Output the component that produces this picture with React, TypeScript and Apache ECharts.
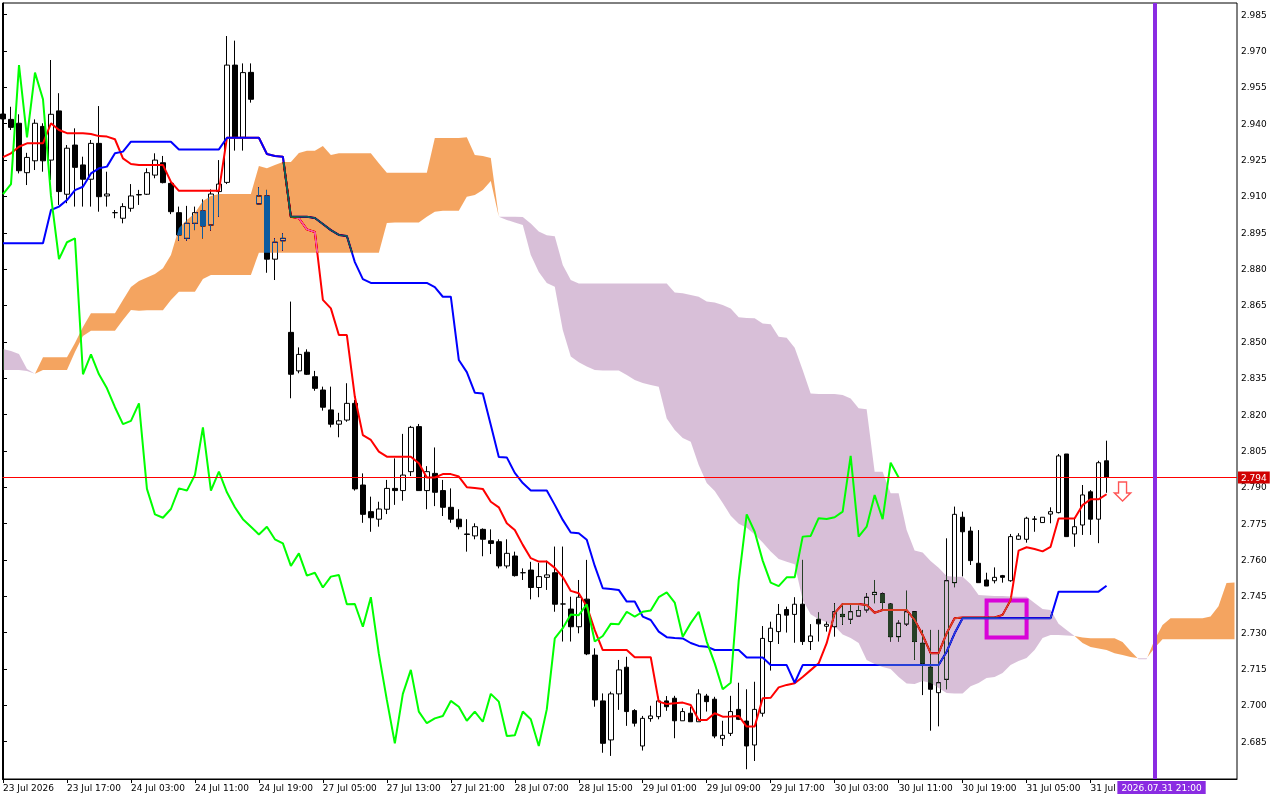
import React, { useEffect, useRef } from 'react'
import * as echarts from 'echarts'

// hourly bars, x value = bar index (bar 0 = 23 Jul 2026)
const opens = [
  2.9440, 2.9418, 2.9402, 2.9198, 2.9247, 2.9389, 2.9250, 2.9453, 2.9109, 2.9312,
  2.9230, 2.9171, 2.9319, 2.9102, 2.9033, 2.9010, 2.9051, 2.9106, 2.9109, 2.9188,
  2.9239, 2.9154, 2.9033, 2.8927, 2.8989, 2.9040, 2.8982, 2.9120, 2.9158, 2.9642,
  2.9344, 2.9612, 2.9069, 2.9102, 2.8841, 2.8917, 2.8539, 2.8380, 2.8457, 2.8356,
  2.8301, 2.8219, 2.8160, 2.8177, 2.8246, 2.7909, 2.7799, 2.7768, 2.7809, 2.7895,
  2.7886, 2.7964, 2.8150, 2.7886, 2.7957, 2.7886, 2.7817, 2.7768, 2.7707, 2.7699,
  2.7726, 2.7679, 2.7675, 2.7575, 2.7616, 2.7547, 2.7558, 2.7486, 2.7528, 2.7547,
  2.7418, 2.7397, 2.7324, 2.7438, 2.7207, 2.7018, 2.6857, 2.7047, 2.7157, 2.6978,
  2.6832, 2.6945, 2.6953, 2.7018, 2.7029, 2.6936, 2.6967, 2.6932, 2.7038, 2.7025,
  2.6862, 2.6884, 2.6983, 2.6935, 2.6836, 2.6967, 2.7263, 2.7304, 2.7395, 2.7375,
  2.7417, 2.7263, 2.7355, 2.7326, 2.7324, 2.7375, 2.7355, 2.7368, 2.7393, 2.7457,
  2.7460, 2.7418, 2.7283, 2.7335, 2.7386, 2.7256, 2.7157, 2.7052, 2.7107, 2.7506,
  2.7776, 2.7719, 2.7586, 2.7517, 2.7514, 2.7535, 2.7514, 2.7685, 2.7685, 2.7767,
  2.7754, 2.7789, 2.7795, 2.8037, 2.7707, 2.7744, 2.7881, 2.7768, 2.8009
]
const closes = [
  2.9420, 2.9385, 2.9206, 2.9261, 2.9402, 2.9247, 2.9439, 2.9120, 2.9299, 2.9220,
  2.9171, 2.9319, 2.9099, 2.9110, 2.9033, 2.9058, 2.9102, 2.9108, 2.9198, 2.9250,
  2.9157, 2.9037, 2.8941, 2.8989, 2.9033, 2.8978, 2.9110, 2.9151, 2.9642, 2.9344,
  2.9611, 2.9501, 2.9102, 2.8841, 2.8911, 2.8927, 2.8366, 2.8448, 2.8366, 2.8308,
  2.8230, 2.8160, 2.8174, 2.8246, 2.7893, 2.7788, 2.7774, 2.7810, 2.7895, 2.7886,
  2.7950, 2.8147, 2.7886, 2.7964, 2.7879, 2.7817, 2.7768, 2.7737, 2.7705, 2.7737,
  2.7685, 2.7668, 2.7575, 2.7627, 2.7535, 2.7547, 2.7486, 2.7531, 2.7538, 2.7417,
  2.7418, 2.7324, 2.7446, 2.7212, 2.7022, 2.6843, 2.7047, 2.7146, 2.6974, 2.6926,
  2.6946, 2.6956, 2.7018, 2.6994, 2.6936, 2.6974, 2.6932, 2.7047, 2.7015, 2.6873,
  2.6876, 2.6974, 2.6942, 2.6832, 2.6983, 2.7276, 2.7318, 2.7375, 2.7372, 2.7417,
  2.7263, 2.7286, 2.7336, 2.7334, 2.7386, 2.7366, 2.7386, 2.7391, 2.7446, 2.7466,
  2.7424, 2.7283, 2.7339, 2.7386, 2.7263, 2.7173, 2.7066, 2.7093, 2.7514, 2.7788,
  2.7716, 2.7597, 2.7506, 2.7492, 2.7528, 2.7528, 2.7696, 2.7699, 2.7772, 2.7769,
  2.7776, 2.7799, 2.8029, 2.7696, 2.7737, 2.7868, 2.7768, 2.8001, 2.7940
]
const lows = [
  2.9407, 2.9374, 2.9195, 2.9147, 2.9209, 2.9202, 2.9168, 2.9065, 2.9072, 2.9058,
  2.9058, 2.9058, 2.9037, 2.9058, 2.9010, 2.8989, 2.9037, 2.9065, 2.9106, 2.9175,
  2.9154, 2.9027, 2.8917, 2.8917, 2.8961, 2.8927, 2.8959, 2.9016, 2.9151, 2.9289,
  2.9289, 2.9487, 2.9065, 2.8785, 2.8755, 2.8876, 2.8267, 2.8370, 2.8363, 2.8298,
  2.8216, 2.8147, 2.8106, 2.8170, 2.7886, 2.7753, 2.7716, 2.7737, 2.7789, 2.7827,
  2.7844, 2.7946, 2.7886, 2.7809, 2.7822, 2.7781, 2.7753, 2.7726, 2.7634, 2.7685,
  2.7615, 2.7624, 2.7565, 2.7565, 2.7531, 2.7517, 2.7437, 2.7446, 2.7476, 2.7386,
  2.7263, 2.7263, 2.7297, 2.7207, 2.6994, 2.6804, 2.6791, 2.6981, 2.6915, 2.6912,
  2.6813, 2.6932, 2.6942, 2.6977, 2.6864, 2.6936, 2.6932, 2.6932, 2.6974, 2.6864,
  2.6832, 2.6873, 2.6939, 2.6736, 2.6770, 2.6953, 2.7143, 2.7253, 2.7300, 2.7258,
  2.7249, 2.7228, 2.7263, 2.7304, 2.7283, 2.7332, 2.7336, 2.7368, 2.7383, 2.7421,
  2.7393, 2.7263, 2.7263, 2.7328, 2.7187, 2.7042, 2.6895, 2.6913, 2.7066, 2.7487,
  2.7532, 2.7579, 2.7506, 2.7492, 2.7503, 2.7506, 2.7510, 2.7682, 2.7671, 2.7716,
  2.7754, 2.7751, 2.7792, 2.7696, 2.7654, 2.7703, 2.7703, 2.7669, 2.7877
]
const highs = [
  2.9453, 2.9470, 2.9439, 2.9280, 2.9418, 2.9402, 2.9663, 2.9526, 2.9312, 2.9381,
  2.9264, 2.9333, 2.9473, 2.9202, 2.9044, 2.9072, 2.9151, 2.9127, 2.9216, 2.9278,
  2.9267, 2.9161, 2.9058, 2.9061, 2.9058, 2.9088, 2.9129, 2.9250, 2.9762, 2.9743,
  2.9649, 2.9649, 2.9138, 2.9127, 2.8927, 2.8948, 2.8666, 2.8477, 2.8469, 2.8380,
  2.8315, 2.8315, 2.8207, 2.8329, 2.8260, 2.7957, 2.7861, 2.7840, 2.7930, 2.8019,
  2.8120, 2.8153, 2.8161, 2.7987, 2.8064, 2.7930, 2.7895, 2.7809, 2.7768, 2.7751,
  2.7730, 2.7726, 2.7685, 2.7685, 2.7634, 2.7565, 2.7592, 2.7588, 2.7597, 2.7655,
  2.7655, 2.7448, 2.7517, 2.7600, 2.7235, 2.7049, 2.7056, 2.7187, 2.7200, 2.6984,
  2.6956, 2.6998, 2.7035, 2.7038, 2.7039, 2.6988, 2.6994, 2.7066, 2.7047, 2.7035,
  2.6936, 2.7039, 2.7093, 2.7066, 2.7097, 2.7327, 2.7345, 2.7418, 2.7407, 2.7446,
  2.7600, 2.7335, 2.7383, 2.7345, 2.7421, 2.7418, 2.7414, 2.7411, 2.7462, 2.7517,
  2.7465, 2.7421, 2.7350, 2.7473, 2.7386, 2.7311, 2.7311, 2.7311, 2.7689, 2.7820,
  2.7799, 2.7737, 2.7723, 2.7547, 2.7569, 2.7538, 2.7707, 2.7710, 2.7778, 2.7781,
  2.7776, 2.7817, 2.8037, 2.8037, 2.7772, 2.7909, 2.7888, 2.8009, 2.8092
]

// Ichimoku lines
const tenkan = [
  2.9262, 2.9278, 2.9305, 2.9319, 2.9319, 2.9319, 2.9402, 2.9374, 2.9361, 2.9361,
  2.9361, 2.9358, 2.9349, 2.9347, 2.9336, 2.9257, 2.9234, 2.9230, 2.9230, 2.9230,
  2.9230, 2.9160, 2.9123, 2.9123, 2.9123, 2.9123, 2.9123, 2.9123, 2.9342, 2.9342,
  2.9342, 2.9342, 2.9342, 2.9275, 2.9267, 2.9264, 2.9016, 2.9010, 2.8964, 2.8953,
  2.8673, 2.8638, 2.8528, 2.8528, 2.8273, 2.8115, 2.8095, 2.8047, 2.8026, 2.8026,
  2.8026, 2.8026, 2.7999, 2.7940, 2.7940, 2.7954, 2.7954, 2.7944, 2.7900, 2.7897,
  2.7893, 2.7840, 2.7817, 2.7751, 2.7723, 2.7662, 2.7607, 2.7593, 2.7593, 2.7567,
  2.7529, 2.7472, 2.7462, 2.7409, 2.7310, 2.7228, 2.7228, 2.7228, 2.7228, 2.7198,
  2.7198, 2.7198, 2.7015, 2.7005, 2.7008, 2.7011, 2.7001, 2.6939, 2.6939, 2.6967,
  2.6953, 2.6954, 2.6956, 2.6912, 2.6912, 2.7029, 2.7031, 2.7074, 2.7084, 2.7091,
  2.7117, 2.7145, 2.7173, 2.7256, 2.7380, 2.7418, 2.7418, 2.7418, 2.7414, 2.7382,
  2.7393, 2.7393, 2.7393, 2.7393, 2.7352, 2.7290, 2.7215, 2.7215, 2.7297, 2.7359,
  2.7362, 2.7362, 2.7362, 2.7362, 2.7362, 2.7373, 2.7434, 2.7638, 2.7652, 2.7645,
  2.7635, 2.7654, 2.7771, 2.7771, 2.7771, 2.7826, 2.7850, 2.7850, 2.7871
]
const kijun = [
  2.8907, 2.8907, 2.8907, 2.8907, 2.8907, 2.8907, 2.9044, 2.9058, 2.9085, 2.9126,
  2.9140, 2.9195, 2.9216, 2.9223, 2.9278, 2.9285, 2.9326, 2.9326, 2.9326, 2.9326,
  2.9326, 2.9326, 2.9294, 2.9294, 2.9294, 2.9294, 2.9294, 2.9294, 2.9342, 2.9342,
  2.9342, 2.9342, 2.9342, 2.9275, 2.9267, 2.9264, 2.9016, 2.9016, 2.9016, 2.9011,
  2.8986, 2.8961, 2.8941, 2.8937, 2.8829, 2.8759, 2.8743, 2.8743, 2.8743, 2.8743,
  2.8743, 2.8743, 2.8743, 2.8743, 2.8726, 2.8686, 2.8686, 2.8425, 2.8375, 2.8290,
  2.8287, 2.8157, 2.8025, 2.8023, 2.7959, 2.7917, 2.7886, 2.7886, 2.7886, 2.7827,
  2.7765, 2.7713, 2.7710, 2.7683, 2.7575, 2.7483, 2.7480, 2.7476, 2.7428, 2.7428,
  2.7366, 2.7352, 2.7304, 2.7281, 2.7278, 2.7276, 2.7257, 2.7245, 2.7242, 2.7228,
  2.7228, 2.7228, 2.7228, 2.7197, 2.7197, 2.7197, 2.7166, 2.7166, 2.7166, 2.7093,
  2.7166, 2.7166, 2.7166, 2.7166, 2.7166, 2.7166, 2.7166, 2.7166, 2.7166, 2.7166,
  2.7166, 2.7166, 2.7166, 2.7166, 2.7166, 2.7166, 2.7166, 2.7166, 2.7221, 2.7297,
  2.7359, 2.7359, 2.7359, 2.7359, 2.7359, 2.7359, 2.7359, 2.7359, 2.7359, 2.7359,
  2.7359, 2.7359, 2.7469, 2.7469, 2.7469, 2.7469, 2.7469, 2.7469, 2.7493
]
// senkou spans, already placed 26 bars ahead
const spanA = [
  2.8384, 2.8384, 2.8384, 2.8380, 2.8368, 2.8436, 2.8436, 2.8436, 2.8436, 2.8495,
  2.8561, 2.8618, 2.8618, 2.8618, 2.8618, 2.8673, 2.8726, 2.8751, 2.8765, 2.8780,
  2.8804, 2.8858, 2.8970, 2.9003, 2.9032, 2.9081, 2.9102, 2.9110, 2.9110, 2.9110,
  2.9110, 2.9110, 2.9226, 2.9216, 2.9230, 2.9242, 2.9242, 2.9279, 2.9289, 2.9289,
  2.9308, 2.9271, 2.9278, 2.9278, 2.9278, 2.9278, 2.9278, 2.9237, 2.9198, 2.9198,
  2.9198, 2.9198, 2.9198, 2.9198, 2.9341, 2.9341, 2.9341, 2.9341, 2.9344, 2.9271,
  2.9267, 2.9259, 2.9016, 2.9003, 2.8992, 2.8982, 2.8858, 2.8788, 2.8743, 2.8727,
  2.8549, 2.8439, 2.8416, 2.8398, 2.8384, 2.8382, 2.8382, 2.8382, 2.8363, 2.8342,
  2.8330, 2.8322, 2.8315, 2.8184, 2.8136, 2.8103, 2.8088, 2.7992, 2.7917, 2.7884,
  2.7835, 2.7782, 2.7749, 2.7733, 2.7705, 2.7672, 2.7635, 2.7604, 2.7592, 2.7582,
  2.7434, 2.7376, 2.7355, 2.7343, 2.7326, 2.7292, 2.7278, 2.7257, 2.7187, 2.7170,
  2.7158, 2.7150, 2.7117, 2.7090, 2.7088, 2.7100, 2.7092, 2.7071, 2.7051, 2.7049,
  2.7049, 2.7079, 2.7092, 2.7113, 2.7117, 2.7133, 2.7166, 2.7183, 2.7195, 2.7228,
  2.7278, 2.7290, 2.7290, 2.7288, 2.7286, 2.7280, 2.7277, 2.7277, 2.7277, 2.7277,
  2.7261, 2.7224, 2.7190, 2.7190, 2.7269, 2.7331, 2.7359, 2.7359, 2.7359, 2.7359,
  2.7359, 2.7366, 2.7409, 2.7505, 2.7507
]
const spanB = [
  2.8470, 2.8462, 2.8450, 2.8388, 2.8368, 2.8384, 2.8384, 2.8384, 2.8384, 2.8458,
  2.8524, 2.8546, 2.8546, 2.8546, 2.8546, 2.8590, 2.8631, 2.8628, 2.8630, 2.8630,
  2.8630, 2.8673, 2.8707, 2.8707, 2.8707, 2.8759, 2.8776, 2.8776, 2.8776, 2.8776,
  2.8776, 2.8776, 2.8868, 2.8868, 2.8868, 2.8868, 2.8868, 2.8868, 2.8868, 2.8868,
  2.8868, 2.8868, 2.8868, 2.8868, 2.8868, 2.8868, 2.8868, 2.8868, 2.8990, 2.8992,
  2.8992, 2.8992, 2.8992, 2.9016, 2.9037, 2.9041, 2.9041, 2.9041, 2.9099, 2.9106,
  2.9127, 2.9164, 2.9016, 2.9016, 2.9016, 2.9015, 2.8988, 2.8955, 2.8940, 2.8936,
  2.8817, 2.8755, 2.8741, 2.8741, 2.8741, 2.8741, 2.8741, 2.8741, 2.8741, 2.8741,
  2.8741, 2.8741, 2.8741, 2.8741, 2.8703, 2.8700, 2.8693, 2.8686, 2.8666, 2.8662,
  2.8652, 2.8637, 2.8601, 2.8598, 2.8597, 2.8576, 2.8572, 2.8521, 2.8517, 2.8475,
  2.8384, 2.8287, 2.8285, 2.8285, 2.8285, 2.8281, 2.8266, 2.8226, 2.8222, 2.7964,
  2.7964, 2.7875, 2.7875, 2.7723, 2.7639, 2.7630, 2.7595, 2.7568, 2.7533, 2.7530,
  2.7530, 2.7500, 2.7455, 2.7453, 2.7451, 2.7451, 2.7449, 2.7448, 2.7448, 2.7422,
  2.7397, 2.7393, 2.7336, 2.7311, 2.7286, 2.7257, 2.7240, 2.7234, 2.7228, 2.7215,
  2.7207, 2.7199, 2.7194, 2.7194, 2.7236, 2.7272, 2.7272, 2.7272, 2.7272, 2.7272,
  2.7272, 2.7272, 2.7272, 2.7272, 2.7272
]
const CHIKOU_SHIFT = 26

// the 31 Jul 13:00 label is cut off by the cursor time box in the terminal
const xLabels = [
  '23 Jul 2026', '23 Jul 17:00', '24 Jul 03:00', '24 Jul 11:00', '24 Jul 19:00',
  '27 Jul 05:00', '27 Jul 13:00', '27 Jul 21:00', '28 Jul 07:00', '28 Jul 15:00',
  '29 Jul 01:00', '29 Jul 09:00', '29 Jul 17:00', '30 Jul 03:00', '30 Jul 11:00',
  '30 Jul 19:00', '31 Jul 05:00', '31 Jul'
]
const X_LABEL_STEP = 8
const yTicks = [
  2.685, 2.7, 2.715, 2.73, 2.745, 2.76, 2.775, 2.79, 2.805, 2.82, 2.835,
  2.85, 2.865, 2.88, 2.895, 2.91, 2.925, 2.94, 2.955, 2.97, 2.985
]

// chart objects
const bidPrice = 2.794
const vLineBar = 144
const vLineLabel = '2026.07.31 21:00'
const sellArrows = [[140, 2.7882]]
const boxBars = [123, 128]
const boxPrices = [2.7432, 2.728]

const X_MIN = -0.0625
const X_MAX = 154.3125
const Y_MIN = 2.66957
const Y_MAX = 2.98983
const FONT = 'DejaVu Sans'
// cloud drawn like MT4 (xor): white minus sandybrown / thistle with difference blend
const CLOUD_UP = '#0b5b9f'
const CLOUD_DOWN = '#274027'

type CloudPart = { bull: boolean; pts: number[][] }

const buildCloud = (): CloudPart[] => {
  const parts: CloudPart[] = []
  let cur: CloudPart | null = null
  for (let i = 0; i < spanA.length; i++) {
    const d = spanA[i] - spanB[i]
    const bull = d > 0 ? true : d < 0 ? false : cur ? cur.bull : true
    if (!cur) {
      cur = { bull, pts: [[i, spanA[i], spanB[i]]] }
      continue
    }
    if (bull !== cur.bull) {
      const d0 = spanA[i - 1] - spanB[i - 1]
      const t = d0 / (d0 - d)
      const xc = i - 1 + t
      const yc = spanA[i - 1] + t * (spanA[i] - spanA[i - 1])
      cur.pts.push([xc, yc, yc])
      parts.push(cur)
      cur = { bull, pts: [[xc, yc, yc], [i, spanA[i], spanB[i]]] }
    } else {
      cur.pts.push([i, spanA[i], spanB[i]])
    }
  }
  if (cur) parts.push(cur)
  return parts
}

const App: React.FC = () => {
  const chartRef = useRef<HTMLDivElement>(null)

  useEffect(() => {
    if (!chartRef.current) return
    const chart = echarts.init(chartRef.current, undefined, { renderer: 'svg' })
    const cloud = buildCloud()
    const candles = opens.map((o, i) => [i, o, closes[i], lows[i], highs[i]])
    const xTicks = xLabels.map((_, k) => k * X_LABEL_STEP)

    const option = {
      animation: false,
      backgroundColor: '#ffffff',
      textStyle: { fontFamily: FONT },
      grid: { left: 2, right: 43, top: 3, bottom: 21, show: true, borderColor: '#000', borderWidth: 1 },
      xAxis: {
        type: 'value',
        min: X_MIN,
        max: X_MAX,
        axisLine: { show: true, lineStyle: { color: '#000', width: 1 } },
        axisTick: { show: true, length: 4, customValues: xTicks, lineStyle: { color: '#000' } },
        axisLabel: {
          customValues: xTicks,
          formatter: (v: number) => xLabels[Math.round(v / X_LABEL_STEP)] || '',
          align: 'left',
          margin: 4,
          fontSize: 9,
          color: '#000',
          fontFamily: FONT
        },
        splitLine: { show: false }
      },
      yAxis: {
        type: 'value',
        position: 'right',
        min: Y_MIN,
        max: Y_MAX,
        axisLine: { show: true, lineStyle: { color: '#000', width: 1 } },
        axisTick: { show: true, length: 4, customValues: yTicks, lineStyle: { color: '#000' } },
        axisLabel: {
          customValues: yTicks,
          formatter: (v: number) => v.toFixed(3),
          margin: 4,
          fontSize: 9,
          color: '#000',
          fontFamily: FONT
        },
        splitLine: { show: false }
      },
      series: [
        {
          type: 'candlestick',
          data: candles,
          z: 1,
          barWidth: 5,
          silent: true,
          itemStyle: {
            color: '#ffffff',
            color0: '#000000',
            borderColor: '#000000',
            borderColor0: '#000000',
            borderColorDoji: '#000000',
            borderWidth: 1
          }
        },
        {
          type: 'line',
          data: tenkan.map((v, i) => [i, v]),
          symbol: 'none',
          z: 2,
          silent: true,
          lineStyle: { color: '#ff0000', width: 2 }
        },
        {
          type: 'line',
          data: kijun.map((v, i) => [i, v]),
          symbol: 'none',
          z: 2,
          silent: true,
          lineStyle: { color: '#0000ff', width: 2 }
        },
        {
          type: 'custom',
          data: [[0, spanA[0]]],
          z: 3,
          silent: true,
          clip: false,
          renderItem: (_params: any, api: any) => ({
            type: 'group',
            children: cloud.map((part) => ({
              type: 'polygon',
              shape: {
                points: [
                  ...part.pts.map((p) => api.coord([p[0], p[1]])),
                  ...part.pts.slice().reverse().map((p) => api.coord([p[0], p[2]]))
                ]
              },
              style: { fill: part.bull ? CLOUD_UP : CLOUD_DOWN }
            }))
          })
        },
        {
          type: 'line',
          data: closes.slice(CHIKOU_SHIFT).map((v, i) => [i, v]),
          symbol: 'none',
          z: 4,
          silent: true,
          lineStyle: { color: '#00ff00', width: 2 }
        },
        {
          type: 'scatter',
          data: sellArrows,
          z: 5,
          clip: false,
          silent: true,
          symbol: 'path://M4,0 L12,0 L12,11 L16,11 L8,19 L0,11 L4,11 Z',
          symbolSize: [16, 19],
          itemStyle: { color: '#ffffff', borderColor: '#ff2a2a', borderWidth: 1.5 },
          markLine: {
            silent: true,
            precision: 4,
            symbol: ['none', 'none'],
            data: [
              {
                yAxis: bidPrice,
                lineStyle: { color: '#ff0000', width: 1, type: 'solid' },
                label: {
                  show: true,
                  position: 'end',
                  distance: 1,
                  formatter: bidPrice.toFixed(3),
                  color: '#ffffff',
                  backgroundColor: '#d00000',
                  padding: [2, 3, 1, 3],
                  fontSize: 9,
                  fontFamily: FONT
                }
              },
              {
                xAxis: vLineBar,
                lineStyle: { color: '#8a2be2', width: 4, type: 'solid' },
                label: {
                  show: true,
                  position: 'start',
                  distance: 2,
                  offset: [7, 0],
                  formatter: vLineLabel,
                  color: '#ffffff',
                  backgroundColor: '#8a2be2',
                  padding: [2, 4, 2, 4],
                  fontSize: 9,
                  fontFamily: FONT
                }
              }
            ]
          },
          markArea: {
            silent: true,
            itemStyle: { color: 'rgba(0,0,0,0)', borderColor: '#ff3cff', borderWidth: 4 },
            data: [[
              { xAxis: boxBars[0], yAxis: boxPrices[0] },
              { xAxis: boxBars[1], yAxis: boxPrices[1] }
            ]]
          }
        }
      ]
    }

    const blendCloud = () => {
      const root = chartRef.current
      if (!root) return
      root.querySelectorAll('path').forEach((el) => {
        const f = (el.getAttribute('fill') || '').toLowerCase()
        if (f === CLOUD_UP || f === CLOUD_DOWN) el.style.mixBlendMode = 'difference'
      })
    }

    chart.on('finished', blendCloud)
    chart.setOption(option as any)
    blendCloud()
    const timer = window.setTimeout(blendCloud, 50)

    return () => {
      window.clearTimeout(timer)
      chart.dispose()
    }
  }, [])

  return (
    <div
      ref={chartRef}
      style={{ position: 'absolute', left: 0, top: 0, width: '1280px', height: '800px' }}
    />
  )
}

export default App
